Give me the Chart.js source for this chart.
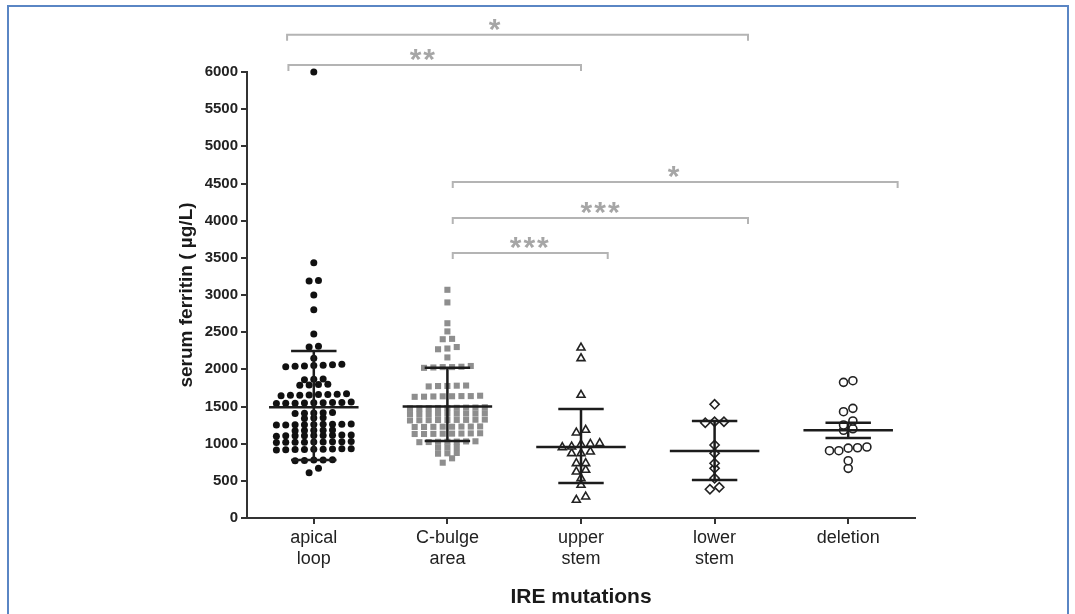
<!DOCTYPE html>
<html>
<head>
<meta charset="utf-8">
<title>Serum ferritin by IRE mutation</title>
<script src="https://cdn.jsdelivr.net/npm/chart.js@4.4.1/dist/chart.umd.min.js"></script>
<style>
  html, body { margin: 0; padding: 0; background: #fff; }
  #frame {
    position: absolute; left: 7px; top: 5px; width: 1058px; height: 640px;
    border: 2px solid #5a86c4; border-bottom: none;
  }
  #chart { position: absolute; left: 0; top: 0; }
</style>
</head>
<body>
<div id="frame"></div>
<canvas id="chart" width="1075" height="614"></canvas>
<script>
// Data
const categories = ["apical loop", "C-bulge area", "upper stem", "lower stem", "deletion"];
const yTicks = [0, 500, 1000, 1500, 2000, 2500, 3000, 3500, 4000, 4500, 5000, 5500, 6000];

const apicalLoop = [
  6000, 3435, 3190, 3195, 3000, 2800, 2475, 2300, 2310, 2150,
  2040, 2050, 2060, 2045, 2055, 2070, 2035,
  1865, 1870, 1860,
  1795, 1790, 1800, 1785,
  1660, 1650, 1665, 1655, 1645, 1670, 1650, 1660,
  1550, 1545, 1555, 1540, 1560, 1550, 1545, 1555, 1548,
  1410, 1415, 1405, 1420, 1412,
  1345, 1350, 1340,
  1260, 1255, 1265, 1250, 1258, 1262, 1255, 1260, 1250,
  1180, 1185, 1175, 1180, 1178,
  1110, 1105, 1115, 1100, 1112, 1108, 1110, 1105, 1115,
  1020, 1025, 1015, 1022, 1030, 1018, 1020, 1025, 1022,
  925, 920, 930, 915, 928, 922, 925, 918, 930,
  780, 775, 785, 770, 780,
  670, 610
];
const cBulgeArea = [
  3070, 2900, 2620, 2510, 2410, 2405, 2300, 2280, 2270, 2160,
  2030, 2025, 2035, 2020, 2045, 2030,
  1776, 1780, 1770, 1775, 1782,
  1637, 1640, 1630, 1645, 1635, 1640, 1632, 1638,
  1480, 1485, 1475, 1480, 1490, 1478, 1482, 1486, 1476,
  1403, 1400, 1405, 1410, 1398, 1402, 1406, 1400, 1404,
  1318, 1320, 1315, 1322, 1318, 1316, 1320, 1324, 1312,
  1228, 1230, 1225, 1232, 1226, 1230, 1228, 1224,
  1134, 1130, 1138, 1135, 1132, 1136, 1130, 1140,
  1026, 1030, 1022, 1025, 1028, 1020, 1032,
  945, 950, 955,
  865, 870, 875,
  744, 803
];
const upperStem = [
  2291, 2148, 1655, 1184, 1148,
  951, 960, 990, 995, 1005,
  870, 870, 892,
  736, 736, 623, 646, 534, 444, 242, 287
];
const lowerStem = [1529, 1296, 1282, 1296, 982, 870, 736, 668, 534, 386, 413];
const deletion = [1825, 1847, 1475, 1430, 1305, 1251, 1200, 1180, 940, 905, 905, 945, 955, 771, 668];

const groupValues = [apicalLoop, cBulgeArea, upperStem, lowerStem, deletion];
const means = [1490, 1500, 955, 900, 1180];
const sdHigh = [2245, 2020, 1465, 1305, 1280];
const sdLow = [780, 1035, 470, 510, 1075];

// significance brackets (x in category units, y in µg/L)
const bracketFrom = [-0.2, -0.19, 1.04, 1.04, 1.04];
const bracketTo = [3.25, 2.0, 4.37, 3.25, 2.2];
const bracketY = [6500, 6095, 4520, 4035, 3565];
const bracketLabel = ["*", "**", "*", "***", "***"];
const bracketLabelX = [1.36, 0.82, 2.7, 2.15, 1.62];

// GraphPad-like scatter: bin into rows, spread each row around the category
const ROW_GAP = 60;
const COL_STEP = 0.07;
const swarm = (values, index) => {
  const sorted = [...values].sort((a, b) => a - b);
  const rows = [];
  sorted.forEach(v => {
    const row = rows[rows.length - 1];
    if (row && v - row[0] <= ROW_GAP) row.push(v);
    else rows.push([v]);
  });
  const points = [];
  rows.forEach(row => {
    row.forEach((v, k) => points.push({ x: index + (k - (row.length - 1) / 2) * COL_STEP, y: v }));
  });
  return points;
};

const markerStyles = [
  { pointStyle: "circle", radius: 3.5, backgroundColor: "#111", borderColor: "#111", borderWidth: 0 },
  { pointStyle: "rect", radius: 4.3, backgroundColor: "#8e8e8e", borderColor: "#8e8e8e", borderWidth: 0 },
  { pointStyle: "triangle", radius: 4.6, backgroundColor: "#fff", borderColor: "#222", borderWidth: 1.6 },
  { pointStyle: "rectRot", radius: 4.6, backgroundColor: "#fff", borderColor: "#222", borderWidth: 1.6 },
  { pointStyle: "circle", radius: 4, backgroundColor: "#fff", borderColor: "#222", borderWidth: 1.6 }
];

const datasets = groupValues.map((vals, i) => ({
  label: categories[i],
  data: swarm(vals, i),
  pointStyle: markerStyles[i].pointStyle,
  pointRadius: markerStyles[i].radius,
  pointBackgroundColor: markerStyles[i].backgroundColor,
  pointBorderColor: markerStyles[i].borderColor,
  pointBorderWidth: markerStyles[i].borderWidth,
  clip: false
}));

const overlayPlugin = {
  id: "overlay",
  afterDatasetsDraw(chart) {
    const { ctx, scales: { x, y } } = chart;
    ctx.save();

    // mean and SD
    ctx.strokeStyle = "#1c1c1c";
    ctx.lineWidth = 2.5;
    means.forEach((m, i) => {
      const cx = x.getPixelForValue(i);
      const meanW = x.getPixelForValue(i + 0.335) - cx;
      const capW = x.getPixelForValue(i + 0.17) - cx;
      const ym = y.getPixelForValue(m);
      const yh = y.getPixelForValue(sdHigh[i]);
      const yl = y.getPixelForValue(sdLow[i]);
      ctx.beginPath();
      ctx.moveTo(cx - meanW, ym); ctx.lineTo(cx + meanW, ym);
      ctx.moveTo(cx, yl); ctx.lineTo(cx, yh);
      ctx.moveTo(cx - capW, yh); ctx.lineTo(cx + capW, yh);
      ctx.moveTo(cx - capW, yl); ctx.lineTo(cx + capW, yl);
      ctx.stroke();
    });

    // significance brackets
    ctx.strokeStyle = "#b4b4b4";
    ctx.fillStyle = "#a6a6a6";
    ctx.lineWidth = 2;
    ctx.font = "bold 30px 'Liberation Sans', Arial, sans-serif";
    ctx.textAlign = "center";
    ctx.textBaseline = "alphabetic";
    ctx.letterSpacing = "2px";
    bracketY.forEach((v, k) => {
      const x1 = x.getPixelForValue(bracketFrom[k]);
      const x2 = x.getPixelForValue(bracketTo[k]);
      const yy = y.getPixelForValue(v);
      ctx.beginPath();
      ctx.moveTo(x1, yy + 6); ctx.lineTo(x1, yy); ctx.lineTo(x2, yy); ctx.lineTo(x2, yy + 6);
      ctx.stroke();
      ctx.fillText(bracketLabel[k], x.getPixelForValue(bracketLabelX[k]), yy + 4);
    });
    ctx.restore();
  }
};

const chart = new Chart(document.getElementById("chart"), {
  type: "scatter",
  data: { datasets },
  options: {
    responsive: false,
    animation: false,
    devicePixelRatio: 1,
    layout: { padding: { left: 175, right: 160, top: 72, bottom: 0 } },
    plugins: { legend: { display: false }, tooltip: { enabled: false } },
    scales: {
      x: {
        type: "linear",
        min: -0.5,
        max: 4.5,
        afterBuildTicks: scale => { scale.ticks = categories.map((_, i) => ({ value: i })); },
        afterFit: scale => { scale.height = 96; },
        ticks: {
          color: "#222",
          padding: 3,
          font: { family: "'Liberation Sans', Arial, sans-serif", size: 18, lineHeight: 1.2 },
          callback: v => categories[v].split(" ")
        },
        grid: { drawOnChartArea: false, drawTicks: true, tickLength: 6, color: "#333", lineWidth: 2 },
        border: { display: true, color: "#333", width: 2 },
        title: {
          display: true,
          text: "IRE mutations",
          color: "#1a1a1a",
          padding: { top: 0, bottom: 4 },
          font: { family: "'Liberation Sans', Arial, sans-serif", size: 21, weight: "bold", lineHeight: 1.2 }
        }
      },
      y: {
        min: 0,
        max: 6000,
        afterBuildTicks: scale => { scale.ticks = yTicks.map(v => ({ value: v })); },
        afterFit: scale => { scale.width = 72; },
        ticks: {
          color: "#222",
          padding: 3,
          font: { family: "'Liberation Sans', Arial, sans-serif", size: 15, weight: "bold" },
          callback: v => String(v)
        },
        grid: { drawOnChartArea: false, drawTicks: true, tickLength: 6, color: "#333", lineWidth: 2 },
        border: { display: true, color: "#333", width: 2 },
        title: {
          display: true,
          text: "serum ferritin ( µg/L)",
          color: "#1a1a1a",
          padding: { top: 0, bottom: 0 },
          font: { family: "'Liberation Sans', Arial, sans-serif", size: 19, weight: "bold", lineHeight: 1.2 }
        }
      }
    }
  },
  plugins: [overlayPlugin]
});
</script>
</body>
</html>
